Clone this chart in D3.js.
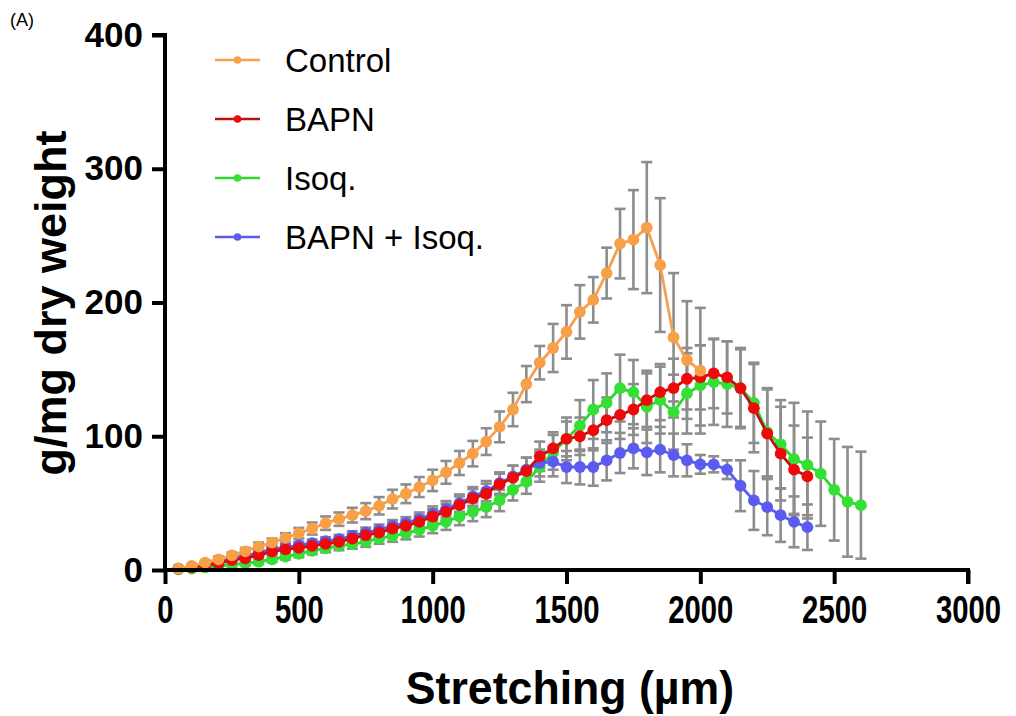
<!DOCTYPE html>
<html><head><meta charset="utf-8">
<script src="https://cdn.jsdelivr.net/npm/d3@7"></script>
<style>body{margin:0;background:#fff}svg{display:block}text{font-family:"Liberation Sans",Arial,sans-serif}</style>
</head><body><svg id="c" width="1016" height="716"></svg>
<script>
const stretching = [50,100,150,200,250,300,350,400,450,500,550,600,650,700,750,800,850,900,950,1000,1050,1100,1150,1200,1250,1300,1350,1400,1450,1500,1550,1600,1650,1700,1750,1800,1850,1900,1950,2000,2050,2100,2150,2200,2250,2300,2350,2400,2450,2500,2550,2600];
const controlMean = [1,3,5.5,8,11,14,17.5,20.5,24,27.5,31,35,38,41,44,48,53,57,62,67,73,80,87,96,107,120,139,155,166,178,193,202,222,244,247,256,228,174,157,149];
const controlSem  = [0.5,1,1.5,2,2,2.5,3,3,3.5,4,4.5,5,5,5.5,6,6.5,7,7,7.5,8,8.5,9,9.5,10,11.5,12.5,13.5,12.5,18,20,20,17,19,26,37,49,50,48,44,47];
const bapnMean = [1,2,3.7,5,7.5,8.7,11.2,13.7,15.4,16.5,18,19.5,21,23.5,26,28,31,33,36,40,43.5,48.5,53.5,57,64,69,74,85,91,98,100,104.5,112,116,120,127,133,136,143,144,147,144,136,121,102,87,75,70];
const bapnSem  = [0.3,0.5,0.8,1,1.2,1.5,1.7,2,2.2,2.5,2.7,3,3.2,3.5,3.7,4,4.3,4.5,5,5.5,6,6.5,7,7.5,8,9,10,11,12,13,14,15,17,18,19,20,21,22,23,24,26,27,29,33,33,35,33,29];
const isoqMean = [0.5,1,2,3,4,5,6.2,8,10,12,14.4,16.2,18,19.4,21,23.6,25.4,27.4,30,33,36,40,43.5,47,52,60,66,77,88,98,108,120,125,136,133,122,127,118,132,138,140.5,139,136,125,103,94,83,78.5,72,60,51,48.5];
const isoqSem  = [0.3,0.5,0.8,1,1.2,1.5,1.7,2,2.2,2.5,2.7,3,3.2,3.5,3.7,4,4.3,4.5,5,5.5,6,6.5,7,7.5,8,8,9,11,13,16,19,22,22,25,24,27,25,28,30,30,32,32,30,30,33,33,42,40,39,38,41,40];
const comboMean = [1,2.5,4.5,6.5,9,10.5,13,15.5,17,18.5,20,21.5,23,25.5,28,30,33,35,38,42,45.5,50,55,59,65,70,75,80,81,77,77,77,82,87.5,91,88,90,86,82,79,79,75,63,52,47,41,36,32];
const comboSem  = [0.3,0.5,0.8,1,1.2,1.5,1.7,2,2.2,2.5,2.7,3,3.2,3.5,3.7,4,4.3,4.5,5,5.5,6,6.5,7,7.5,8,8,9,10,11,12,13,14,15,15,15,17,17,16,12,7,6,7,19,22,21,20,19,17];
const seriesNames = ["Control","BAPN","Isoq.","BAPN + Isoq."];
const xTicks = [0,500,1000,1500,2000,2500,3000];
const yTicks = [0,100,200,300,400];

const series = [
  {name:seriesNames[0], mean:controlMean, sem:controlSem, fill:"#F8A048", line:"#F5A04E"},
  {name:seriesNames[1], mean:bapnMean, sem:bapnSem, fill:"#EE0A0A", line:"#B81414"},
  {name:seriesNames[2], mean:isoqMean, sem:isoqSem, fill:"#33E033", line:"#2ED62E"},
  {name:seriesNames[3], mean:comboMean, sem:comboSem, fill:"#5B5BF2", line:"#5B5BEE"}
].map(s => ({...s, pts: s.mean.map((m,i)=>({x:stretching[i], y:m, e:s.sem[i]}))}));

const svg = d3.select("#c");
const x = d3.scaleLinear().domain([0,3000]).range([165,968]);
const y = d3.scaleLinear().domain([0,400]).range([570,35]);

// error bars
const eg = svg.append("g").attr("stroke","#8d8d8d").attr("stroke-width",2.6).attr("fill","none");
series.forEach(s=>{
  s.pts.forEach(p=>{
    if(p.e<=0) return;
    const xp=x(p.x), y1=y(p.y+p.e), y0=y(Math.max(0,p.y-p.e));
    eg.append("line").attr("x1",xp).attr("x2",xp).attr("y1",y1).attr("y2",y0);
    eg.append("line").attr("x1",xp-5.5).attr("x2",xp+5.5).attr("y1",y1).attr("y2",y1);
    eg.append("line").attr("x1",xp-5.5).attr("x2",xp+5.5).attr("y1",y0).attr("y2",y0);
  });
});

// draw order bottom->top
const order = [2,3,1,0];
const line = d3.line().x(d=>x(d.x)).y(d=>y(d.y));
order.forEach(k=>{
  const s=series[k];
  svg.append("path").datum(s.pts).attr("d",line).attr("fill","none").attr("stroke",s.line).attr("stroke-width",2.8);
  svg.append("g").selectAll("circle").data(s.pts).join("circle")
    .attr("cx",d=>x(d.x)).attr("cy",d=>y(d.y)).attr("r",5.9).attr("fill",s.fill);
});

// axes
const ya = svg.append("g").attr("transform","translate(165,0)")
  .call(d3.axisLeft(y).tickValues(yTicks).tickSize(13).tickPadding(9).tickFormat(d3.format("d")));
const xa = svg.append("g").attr("transform","translate(0,570)")
  .call(d3.axisBottom(x).tickValues(xTicks).tickSize(14).tickPadding(12).tickFormat(d3.format("d")));
[ya,xa].forEach(a=>{
  a.select(".domain").attr("stroke","#000").attr("stroke-width",4);
  a.selectAll(".tick line").attr("stroke","#000").attr("stroke-width",4);
});
ya.select(".domain").attr("d","M-13,35H0V572");
xa.select(".domain").attr("d","M163,0H968V14");
ya.selectAll(".tick text").attr("font-size",35).attr("font-weight","bold").attr("fill","#000")
  .attr("font-family","Liberation Sans, Arial, sans-serif");
xa.selectAll(".tick text").attr("font-size",38).attr("font-weight","bold").attr("fill","#000")
  .attr("font-family","Liberation Sans, Arial, sans-serif")
  .attr("transform","scale(0.77,1)");

// axis titles
svg.append("text").attr("x",570).attr("y",704).attr("text-anchor","middle")
  .attr("font-size",47).attr("font-weight","bold").attr("fill","#000")
  .attr("transform","translate(570,0) scale(0.95,1) translate(-570,0)")
  .text("Stretching (µm)");
svg.append("text").attr("transform","translate(66,303) rotate(-90)").attr("text-anchor","middle")
  .attr("font-size",45).attr("font-weight","bold").attr("fill","#000")
  .text("g/mg dry weight");
svg.append("text").attr("x",10).attr("y",26).attr("font-size",18).attr("fill","#000").text("(A)");

// legend
const lg = svg.append("g");
const rowY = [60,119,178,237];
series.forEach((s,i)=>{
  const g = lg.append("g").attr("transform",`translate(0,${rowY[i]})`);
  g.append("line").attr("x1",215).attr("x2",260).attr("y1",0).attr("y2",0).attr("stroke",s.line).attr("stroke-width",2.4);
  g.append("circle").attr("cx",237.5).attr("cy",0).attr("r",3.8).attr("fill",s.fill);
  g.append("text").attr("x",285).attr("y",12).attr("font-size",33).attr("fill","#000").text(s.name);
});
</script></body></html>
